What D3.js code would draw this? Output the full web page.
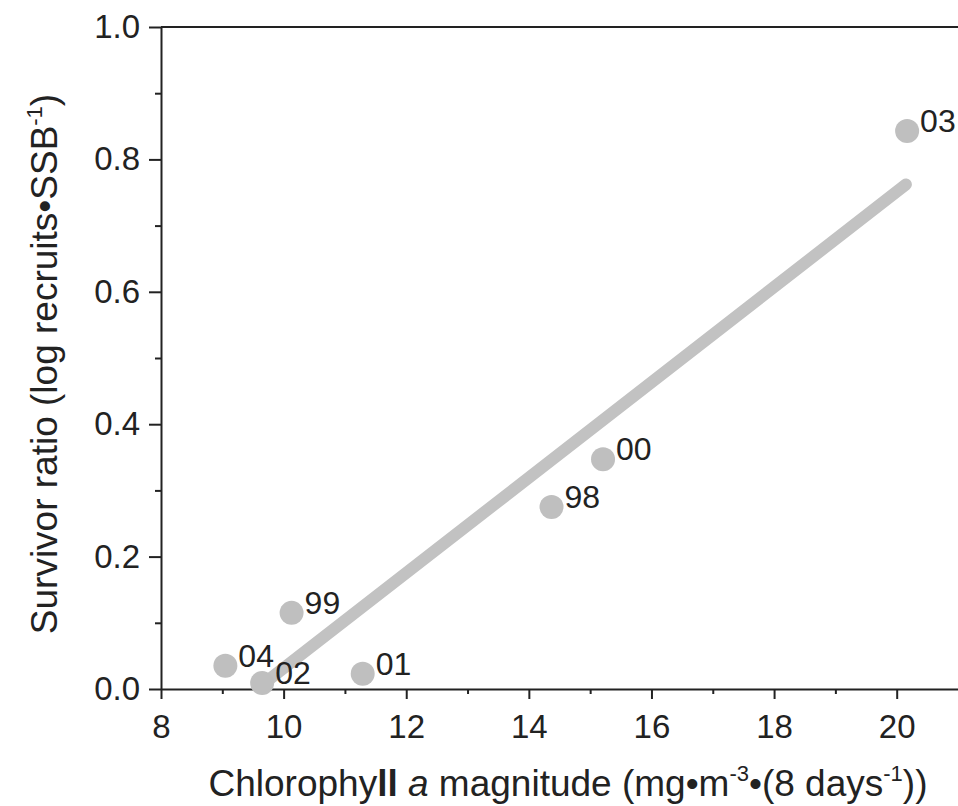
<!DOCTYPE html>
<html>
<head>
<meta charset="utf-8">
<script src="https://cdn.jsdelivr.net/npm/d3@7"></script>
<style>
  body { margin: 0; background: #fff; }
  text { font-family: "Liberation Sans", Arial, sans-serif; fill: #222; }
</style>
</head>
<body>
<div id="container"></div>
<script>
/* DATA */
const years = ["98", "99", "00", "01", "02", "03", "04"];
const chl = [14.37, 10.13, 15.21, 11.29, 9.65, 20.17, 9.05];
const survivor = [0.275, 0.115, 0.347, 0.023, 0.009, 0.843, 0.035];
// fitted line end points
const fitX = [9.62, 20.15];
const fitY = [0.004, 0.762];
const xTicks = [8, 10, 12, 14, 16, 18, 20];
const yTicks = [0.0, 0.2, 0.4, 0.6, 0.8, 1.0];

/* CONSTANTS */
const width = 958, height = 806;
const margin = {top: 27, left: 161, bottom: 117, right: 0};

const svg = d3.select("#container").append("svg")
  .attr("width", width)
  .attr("height", height);

/* SCALES */
const xScale = d3.scaleLinear()
  .domain([8, 21])
  .range([margin.left, width - margin.right]);

const yScale = d3.scaleLinear()
  .domain([0, 1])
  .range([height - margin.bottom, margin.top]);

const axisColor = "#222";
const grey = "#bfbfbf";

// minor ticks first
svg.append("g")
  .attr("transform", `translate(0,${yScale(0)})`)
  .call(d3.axisBottom(xScale).tickValues(d3.range(9, 21, 2)).tickSize(5).tickFormat(""))
  .call(g => g.select(".domain").remove());
svg.append("g")
  .attr("transform", `translate(${xScale(8)},0)`)
  .call(d3.axisLeft(yScale).tickValues(d3.range(0.1, 1, 0.2)).tickSize(6).tickFormat(""))
  .call(g => g.select(".domain").remove());

// x axis
const xAxis = svg.append("g")
  .attr("transform", `translate(0,${yScale(0)})`)
  .call(d3.axisBottom(xScale).tickValues(xTicks).tickSize(10).tickSizeOuter(0).tickPadding(16));

// y axis
const yAxis = svg.append("g")
  .attr("transform", `translate(${xScale(8)},0)`)
  .call(d3.axisLeft(yScale).tickValues(yTicks).tickSize(12).tickSizeOuter(0).tickPadding(9)
    .tickFormat(d3.format(".1f")));

// top frame line
svg.append("line")
  .attr("x1", xScale(8)).attr("x2", width)
  .attr("y1", yScale(1)).attr("y2", yScale(1))
  .attr("stroke", axisColor).attr("stroke-width", 2);

svg.selectAll(".domain, .tick line")
  .attr("stroke", axisColor).attr("stroke-width", 2);
svg.selectAll(".tick text")
  .attr("font-size", 33)
  .attr("font-family", "Liberation Sans, Arial, sans-serif")
  .attr("fill", "#222");

// regression line
svg.append("line")
  .attr("x1", xScale(fitX[0])).attr("y1", yScale(fitY[0]))
  .attr("x2", xScale(fitX[1])).attr("y2", yScale(fitY[1]))
  .attr("stroke", "#c2c2c2")
  .attr("stroke-width", 12)
  .attr("stroke-linecap", "round");

// points
const pts = years.map((y, i) => ({year: y, x: chl[i], y: survivor[i]}));

svg.selectAll(".dot")
  .data(pts)
  .join("circle")
  .attr("class", "dot")
  .attr("cx", d => xScale(d.x))
  .attr("cy", d => yScale(d.y))
  .attr("r", 12)
  .attr("fill", grey);

svg.selectAll(".lbl")
  .data(pts)
  .join("text")
  .attr("class", "lbl")
  .attr("x", d => xScale(d.x) + 13)
  .attr("y", d => yScale(d.y) + 1)
  .attr("font-size", 32)
  .text(d => d.year);

// x title
const xt = svg.append("text")
  .attr("x", 568)
  .attr("y", 796)
  .attr("text-anchor", "middle")
  .attr("font-size", 37);
xt.append("tspan").text("Chloroph");
xt.append("tspan").text("y");
xt.append("tspan").attr("font-weight", "bold").text("ll");
xt.append("tspan").text(" ");
xt.append("tspan").attr("font-style", "italic").text("a");
xt.append("tspan").text(" magnitude (mg•m");
xt.append("tspan").attr("font-size", 22).attr("dy", -15).text("-3");
xt.append("tspan").attr("dy", 15).text("•(8 days");
xt.append("tspan").attr("font-size", 22).attr("dy", -15).text("-1");
xt.append("tspan").attr("dy", 15).text("))");

// y title
const yt = svg.append("text")
  .attr("transform", `translate(57,${364}) rotate(-90)`)
  .attr("text-anchor", "middle")
  .attr("font-size", 37);
yt.append("tspan").text("Survivor ratio (log recruits•SSB");
yt.append("tspan").attr("font-size", 22).attr("dy", -15).text("-1");
yt.append("tspan").attr("dy", 15).text(")");
</script>
</body>
</html>
